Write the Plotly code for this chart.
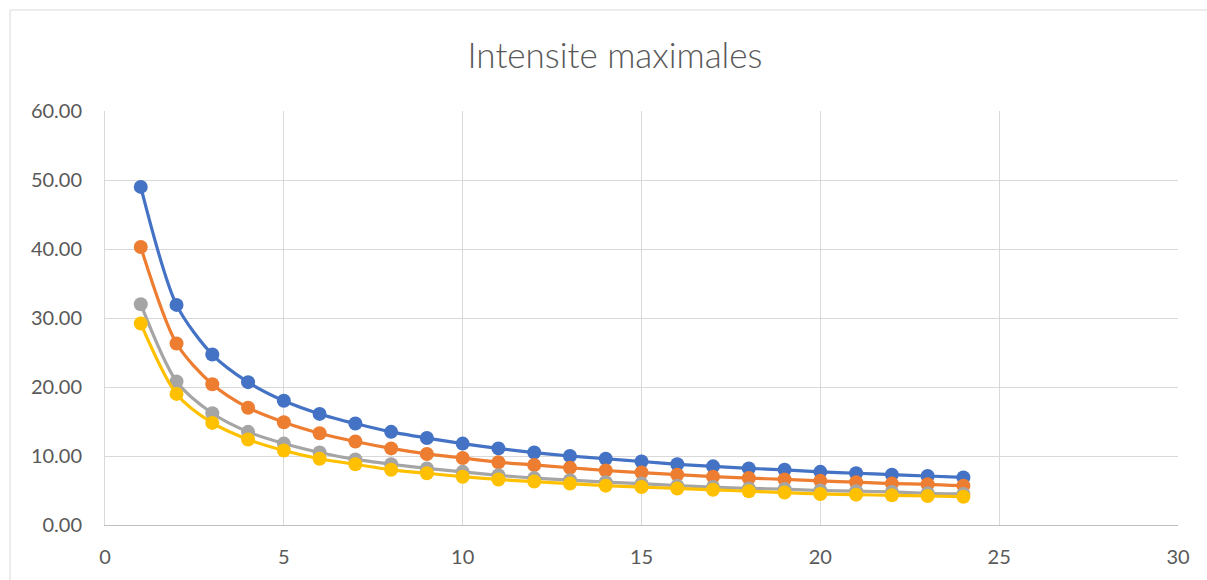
import plotly.graph_objects as go

# Durations (x) and maximal intensities for the four series
durees = list(range(1, 25))

serie_bleue = [49.0, 31.9, 24.7, 20.7, 18.0, 16.1, 14.7, 13.5, 12.6, 11.8, 11.1, 10.5,
               10.0, 9.6, 9.2, 8.8, 8.5, 8.2, 8.0, 7.7, 7.5, 7.3, 7.1, 6.9]
serie_orange = [40.3, 26.3, 20.4, 17.0, 14.9, 13.3, 12.1, 11.1, 10.3, 9.7, 9.1, 8.7,
                8.3, 7.9, 7.6, 7.3, 7.0, 6.8, 6.6, 6.4, 6.2, 6.0, 5.9, 5.7]
serie_grise = [32.0, 20.8, 16.2, 13.5, 11.8, 10.5, 9.5, 8.8, 8.2, 7.7, 7.2, 6.8,
               6.5, 6.2, 6.0, 5.7, 5.5, 5.3, 5.2, 5.0, 4.9, 4.8, 4.6, 4.5]
serie_jaune = [29.2, 19.0, 14.8, 12.4, 10.8, 9.6, 8.8, 8.0, 7.5, 7.0, 6.6, 6.3,
               6.0, 5.7, 5.5, 5.3, 5.1, 4.9, 4.7, 4.5, 4.4, 4.3, 4.2, 4.1]

series = [
    (serie_bleue, "#4472C4"),
    (serie_orange, "#ED7D31"),
    (serie_grise, "#A5A5A5"),
    (serie_jaune, "#FFC000"),
]

fig = go.Figure()
for values, color in series:
    fig.add_trace(go.Scatter(
        x=durees, y=values, mode="lines+markers",
        line=dict(color=color, width=3.2, shape="spline", smoothing=0.8),
        marker=dict(color=color, size=14),
        showlegend=False,
    ))

font_family = "Lato, 'Open Sans', sans-serif"
text_color = "#595959"

fig.update_layout(
    width=1207, height=580,
    margin=dict(l=105, r=29, t=111, b=55),
    paper_bgcolor="white", plot_bgcolor="white",
    title=dict(text="Intensite maximales", x=615 / 1207, xref="container", xanchor="center",
               y=1 - 56 / 580, yref="container", yanchor="middle",
               font=dict(family=font_family, size=35, color=text_color, weight=300)),
    font=dict(family=font_family, color=text_color),
    xaxis=dict(range=[0, 30], dtick=5, tick0=0, showgrid=True, gridcolor="#D9D9D9",
               gridwidth=1, zeroline=False, showline=True, linecolor="#BFBFBF",
               linewidth=1, ticks="", ticklabelstandoff=14,
               tickfont=dict(family=font_family, size=20, color=text_color)),
    yaxis=dict(range=[0, 60], dtick=10, tick0=0, tickformat=".2f", showgrid=True,
               gridcolor="#D9D9D9", gridwidth=1, zeroline=False, showline=True,
               linecolor="#D9D9D9", linewidth=1, ticks="", ticklabelstandoff=18,
               tickfont=dict(family=font_family, size=20, color=text_color)),
    shapes=[
        # outer chart frame (top and left edges visible)
        dict(type="rect", xref="paper", yref="paper",
             x0=(10 - 105) / 1073, x1=1.2, y0=-0.3, y1=(525 - 10) / 414,
             line=dict(color="#D9D9D9", width=1), layer="below"),
    ],
)

fig.write_html("out.html")
